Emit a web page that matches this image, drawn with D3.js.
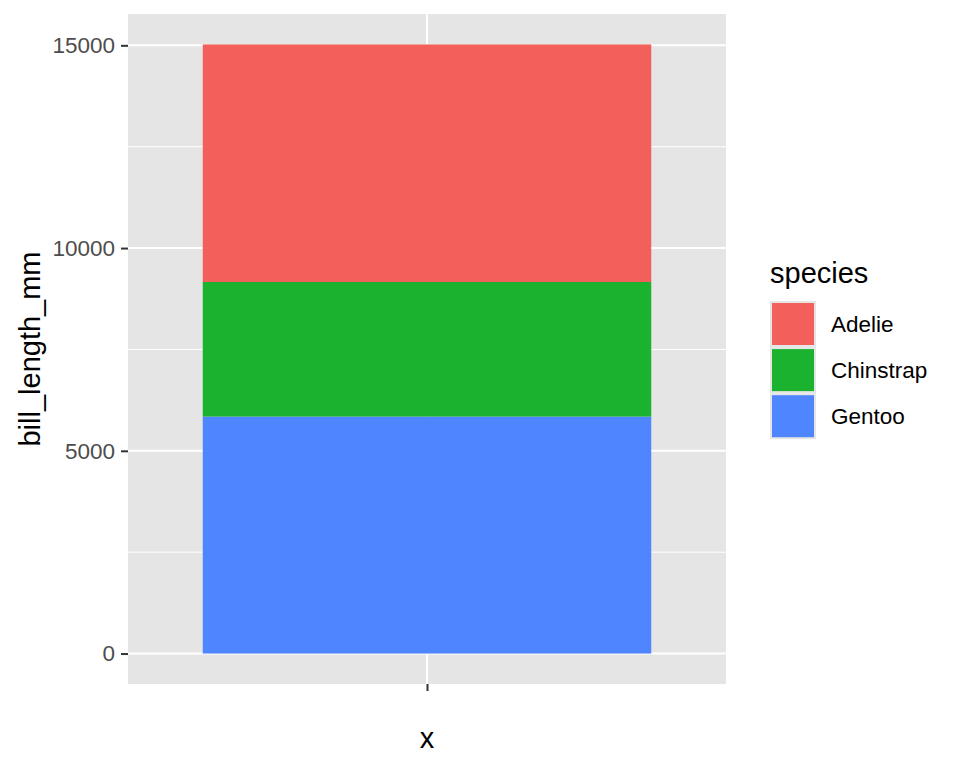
<!DOCTYPE html>
<html>
<head>
<meta charset="utf-8">
<script src="https://cdn.jsdelivr.net/npm/d3@7"></script>
<style>
  body { margin: 0; background: #fff; }
  text { font-family: "Liberation Sans", Arial, sans-serif; }
</style>
</head>
<body>
<svg id="chart" width="960" height="768"></svg>
<script>
// sums of bill_length_mm per species (stack order bottom -> top: Gentoo, Chinstrap, Adelie)
var species = ["Adelie", "Chinstrap", "Gentoo"];
var totals = [5857.8, 3320.7, 5843.1];
var colors = ["#F35F5B", "#1AB22F", "#4F86FF"];
var yTicks = [0, 5000, 10000, 15000];
var minorTicks = [2500, 7500, 12500];
var categories = [""];

var svg = d3.select("#chart"),
  margin = { top: 14, right: 234, bottom: 84, left: 128 },
  width = +svg.attr("width") - margin.left - margin.right,
  height = +svg.attr("height") - margin.top - margin.bottom;

var total = d3.sum(totals);
var pad = total * 0.05;

var y = d3.scaleLinear().domain([-pad, total + pad]).range([height, 0]);
// discrete scale: one category, 0.6 expansion each side
var xc = d3.scaleLinear().domain([0.4, 1.6]).range([0, width]);

var g = svg.append("g")
  .attr("transform", "translate(" + margin.left + "," + margin.top + ")");

g.append("rect")
  .attr("width", width).attr("height", height)
  .attr("fill", "#E5E5E5");

g.selectAll(".minor")
  .data(minorTicks)
  .enter().append("line")
  .attr("x1", 0).attr("x2", width)
  .attr("y1", function (d) { return y(d); })
  .attr("y2", function (d) { return y(d); })
  .attr("stroke", "#fff").attr("stroke-width", 1);

g.selectAll(".major")
  .data(yTicks)
  .enter().append("line")
  .attr("x1", 0).attr("x2", width)
  .attr("y1", function (d) { return y(d); })
  .attr("y2", function (d) { return y(d); })
  .attr("stroke", "#fff").attr("stroke-width", 2);

g.append("line")
  .attr("x1", xc(1)).attr("x2", xc(1))
  .attr("y1", 0).attr("y2", height)
  .attr("stroke", "#fff").attr("stroke-width", 2);

// stacked bar
var order = [2, 1, 0];
var base = 0;
var segs = order.map(function (i) {
  var s = { name: species[i], y0: base, y1: base + totals[i], color: colors[i] };
  base += totals[i];
  return s;
});

g.selectAll(".bar")
  .data(segs)
  .enter().append("rect")
  .attr("class", "bar")
  .attr("x", xc(0.55))
  .attr("width", xc(1.45) - xc(0.55))
  .attr("y", function (d) { return y(d.y1); })
  .attr("height", function (d) { return y(d.y0) - y(d.y1); })
  .attr("fill", function (d) { return d.color; });

// axes
var yAxis = g.append("g")
  .call(d3.axisLeft(y).tickValues(yTicks).tickSize(7).tickPadding(6).tickFormat(d3.format("d")));
yAxis.select(".domain").remove();
yAxis.selectAll("line").attr("stroke", "#333").attr("stroke-width", 2);
yAxis.selectAll("text").attr("fill", "#4D4D4D").attr("font-size", 22.5);

var xAxis = g.append("g")
  .attr("transform", "translate(0," + height + ")")
  .call(d3.axisBottom(d3.scaleOrdinal().domain(categories).range([xc(1)])).tickSize(7));
xAxis.select(".domain").remove();
xAxis.selectAll("line").attr("stroke", "#333").attr("stroke-width", 2);

svg.append("text")
  .attr("x", margin.left + xc(1)).attr("y", 748)
  .attr("text-anchor", "middle")
  .attr("font-size", 29)
  .text("x");

svg.append("text")
  .attr("transform", "translate(40," + (margin.top + height / 2) + ") rotate(-90)")
  .attr("text-anchor", "middle")
  .attr("font-size", 29)
  .text("bill_length_mm");

// legend
var legend = svg.append("g").attr("transform", "translate(770,0)");
legend.append("text")
  .attr("x", 0).attr("y", 283)
  .attr("font-size", 29)
  .text("species");

var keys = legend.selectAll(".key")
  .data(species)
  .enter().append("g")
  .attr("transform", function (d, i) { return "translate(0," + (301 + i * 46.1) + ")"; });

keys.append("rect")
  .attr("width", 46).attr("height", 46)
  .attr("fill", "#E5E5E5");
keys.append("rect")
  .attr("x", 2).attr("y", 2)
  .attr("width", 42).attr("height", 42)
  .attr("fill", function (d, i) { return colors[i]; });
keys.append("text")
  .attr("x", 61).attr("y", 23)
  .attr("dy", "0.36em")
  .attr("font-size", 22.5)
  .text(function (d) { return d; });
</script>
</body>
</html>
